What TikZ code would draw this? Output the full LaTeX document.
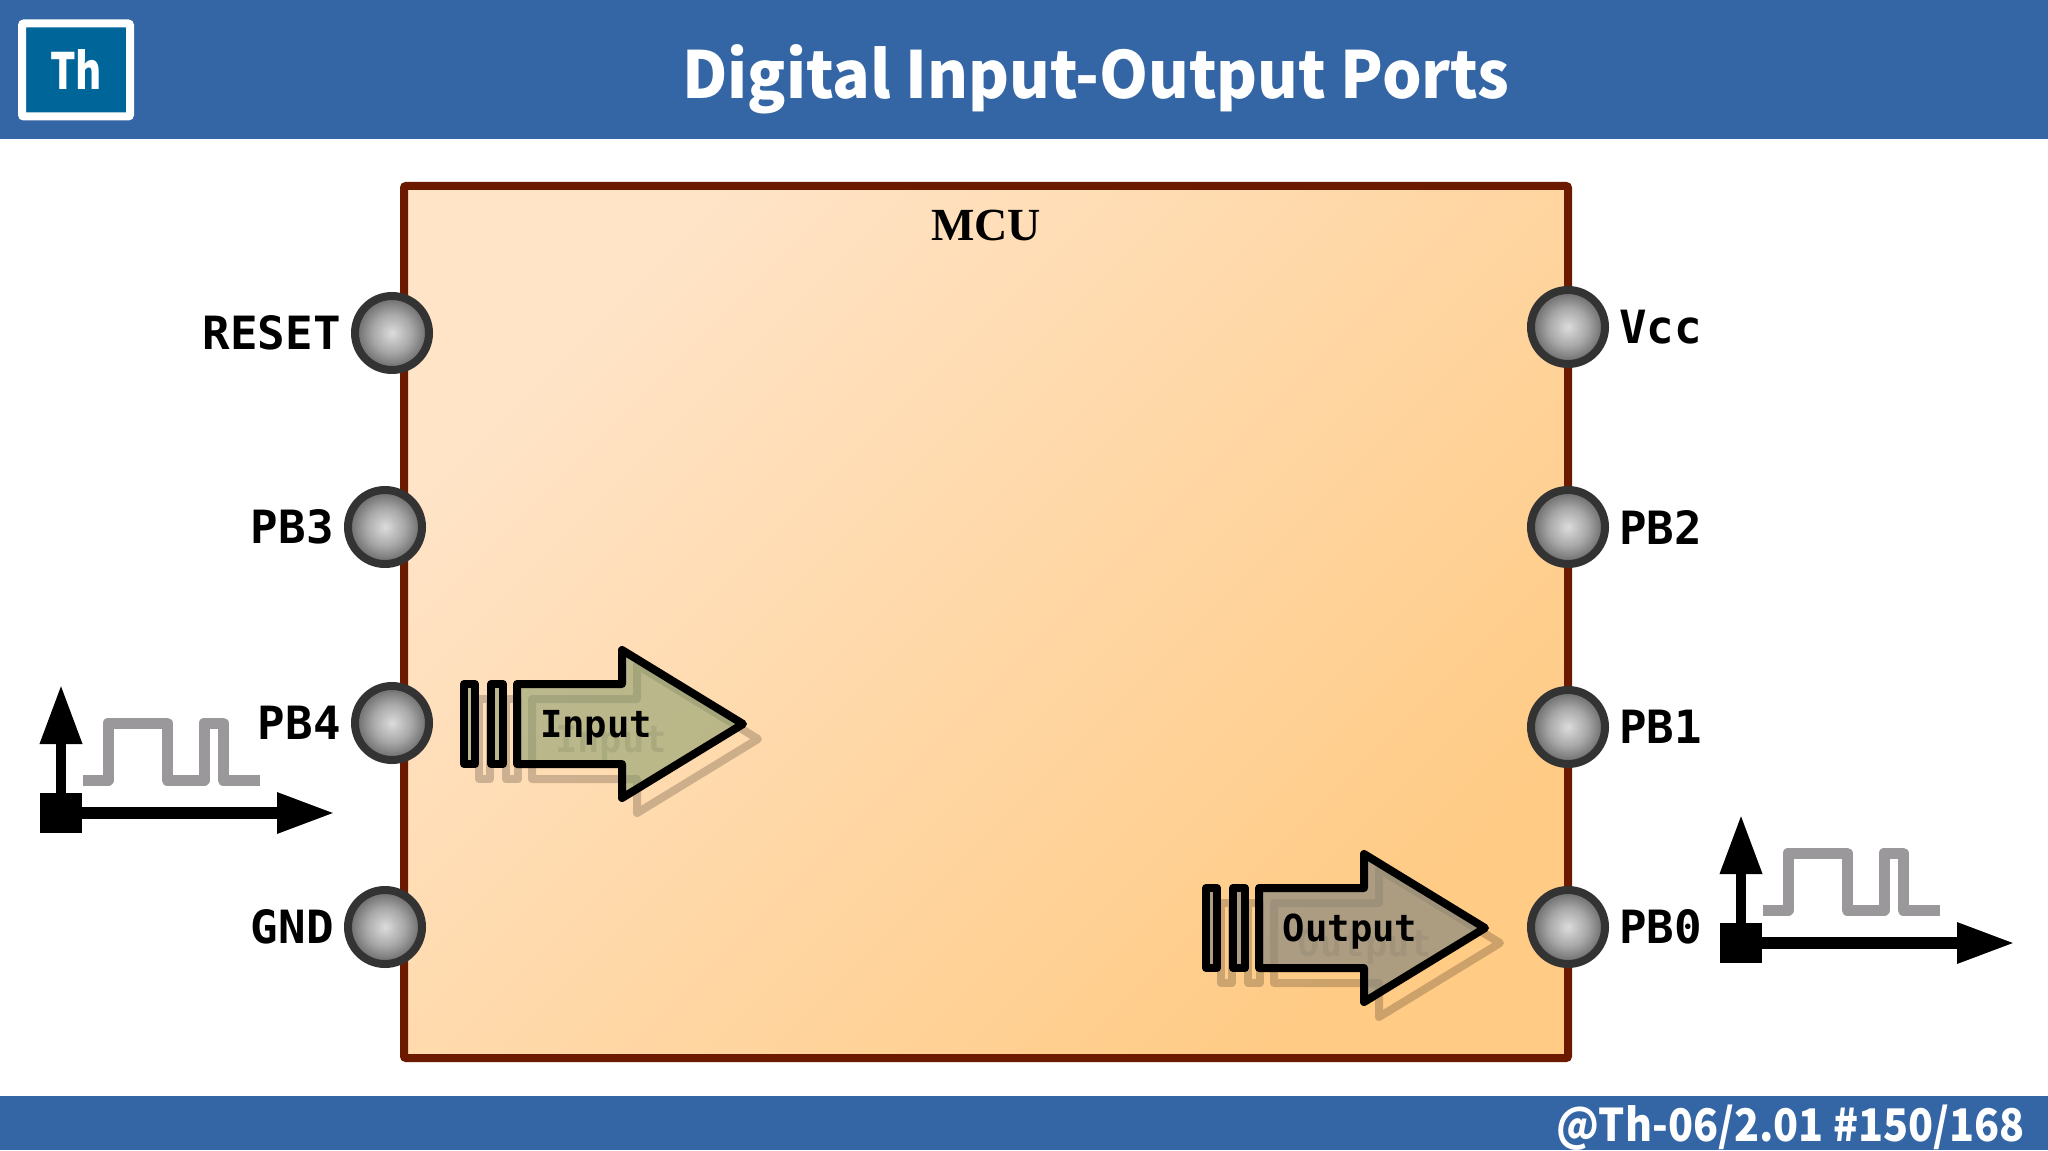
\documentclass[tikz,border=0pt]{standalone}
\usepackage{fontspec}
\usepackage{tikz}
\usetikzlibrary{arrows.meta,positioning}
\newfontfamily\headfont{Noto Sans CJK SC}
\newfontfamily\pinfont{DejaVu Sans Mono}
\newfontfamily\boxfont{Liberation Serif}
\definecolor{barblue}{HTML}{3465A4}
\definecolor{logoblue}{HTML}{006699}
\definecolor{mcuedge}{HTML}{6B1A00}
\definecolor{mculight}{HTML}{FFE4C8}
\definecolor{mcudark}{HTML}{FFCB85}
\definecolor{pinedge}{HTML}{333333}
\definecolor{pinlight}{HTML}{DCDCDC}
\definecolor{pinmid}{HTML}{A8A8A8}
\definecolor{pindark}{HTML}{767676}
\definecolor{wavegray}{HTML}{9A989A}
\definecolor{inputfill}{HTML}{8C9F70}
\definecolor{outputfill}{HTML}{8A8A80}
\pgfdeclareradialshading{pinshade}{\pgfpoint{0bp}{0bp}}{color(0bp)=(pinlight); color(13bp)=(pinmid); color(22bp)=(pindark); color(50bp)=(pindark)}
\tikzset{
  bar/.style={fill=barblue, minimum width=1024pt, outer sep=0pt, inner sep=0pt, anchor=north west},
  logobox/.style={draw=white, fill=logoblue, line width=4pt, rounded corners=1pt, minimum width=54pt, minimum height=46.5pt, text=white, font=\headfont\bfseries\fontsize{25}{25}\selectfont},
  mcubox/.style={draw=mcuedge, line width=4pt, rounded corners=1pt, top color=mculight, bottom color=mcudark, shading angle=45, minimum width=582pt, minimum height=436pt},
  pin/.style={circle, draw=pinedge, line width=4pt, inner sep=0pt, minimum size=37pt, shade, shading=pinshade},
  pinlabel/.style={inner sep=0pt, font=\pinfont\bfseries\fontsize{22.9}{22.9}\selectfont},
  flowlabel/.style={inner sep=0pt, font=\pinfont\bfseries\fontsize{18.6}{18.6}\selectfont},
  flowline/.style={draw=black, line width=4pt, line join=round},
  flowshadow/.style={draw=black, draw opacity=.2, line width=4pt, line join=round},
  axisbox/.style={fill=black, inner sep=0pt, minimum width=21pt, minimum height=20pt},
  yaxis/.style={line width=5pt, -{Triangle[length=29.5pt,width=20pt]}},
  xaxis/.style={line width=6pt, -{Triangle[length=29pt,width=19pt]}},
  waveline/.style={draw=wavegray, line width=5.5pt, line join=round},
  flowarrow/.pic={
    \path[pic actions] (0,-40) rectangle (11,40);
    \path[pic actions] (27,-40) rectangle (39,40);
    \path[pic actions] (53,-40) -- (158,-40) -- (158,-74) -- (279,0) -- (158,74) -- (158,40) -- (53,40) -- cycle;
  },
  signal/.pic={
    \node (origin) [axisbox] at (61,813) {};
    \coordinate (ytip) at (61,685);
    \coordinate (xtip) at (335,813);
    \draw[yaxis] (origin) -- (ytip);
    \draw[xaxis] (origin) -- (xtip);
    \draw[waveline] (83,780) -- (108,780) -- (108,723) -- (167,723) -- (167,780) -- (204,780) -- (204,723) -- (223,723) -- (223,780) -- (260,780);
  }
}
\begin{document}
\begin{tikzpicture}[x=.5pt,y=-.5pt]
  \useasboundingbox (0,0) rectangle (2048,1150);
  \node (header) [bar, minimum height=69.5pt] at (0,0) {};
  \node (footer) [bar, minimum height=27pt] at (0,1096) {};
  \node (logo) [logobox] at (76,70) {\scalebox{.8}[1]{Th}};
  \node (title) [text=white, font=\headfont\bfseries\fontsize{32.5}{32.5}\selectfont] at (1096,79) {\scalebox{.96}[1]{Digital Input-Output Ports}};
  \node (page) [anchor=east, inner sep=0pt, text=white, font=\headfont\bfseries\fontsize{22.5}{22.5}\selectfont] at (2025,1128) {\scalebox{.915}[1]{@Th-06/2.01 \#150/168}};

  \node (mcu) [mcubox] at (986,622) {};
  \node (mculabel) [inner sep=0pt, font=\boxfont\bfseries\fontsize{23}{23}\selectfont] at (986,225) {MCU};

  \node (reset) [pin] at (392,333) {};
  \node (pbthree) [pin] at (385,527) {};
  \node (pbfour) [pin] at (392,723) {};
  \node (gnd) [pin] at (385,927) {};
  \node (vcc) [pin] at (1568,327) {};
  \node (pbtwo) [pin] at (1568,527) {};
  \node (pbone) [pin] at (1568,727) {};
  \node (pbzero) [pin] at (1568,927) {};

  \node (resetlabel) [pinlabel, left=5pt of reset] {RESET};
  \node (pbthreelabel) [pinlabel, left=5pt of pbthree] {PB3};
  \node (pbfourlabel) [pinlabel, left=5pt of pbfour] {PB4};
  \node (gndlabel) [pinlabel, left=5pt of gnd] {GND};
  \node (vcclabel) [pinlabel, right=5pt of vcc] {Vcc};
  \node (pbtwolabel) [pinlabel, right=5pt of pbtwo] {PB2};
  \node (pbonelabel) [pinlabel, right=5pt of pbone] {PB1};
  \node (pbzerolabel) [pinlabel, right=5pt of pbzero] {PB0};

  \pic[flowshadow] at (479,739) {flowarrow};
  \node (inputshadow) [flowlabel, text opacity=.15] at (611,743) {Input};
  \pic[flowline, fill=inputfill, fill opacity=.6] at (464,724) {flowarrow};
  \node (inputlabel) [flowlabel] at (596,728) {Input};

  \pic[flowshadow] at (1221,943) {flowarrow};
  \node (outputshadow) [flowlabel, text opacity=.15] at (1365,947) {Output};
  \pic[flowline, fill=outputfill, fill opacity=.7] at (1206,928) {flowarrow};
  \node (outputlabel) [flowlabel] at (1350,932) {Output};

  \pic (insignal) at (0,0) {signal};
  \pic (outsignal) at (1680,130) {signal};
\end{tikzpicture}
\end{document}
